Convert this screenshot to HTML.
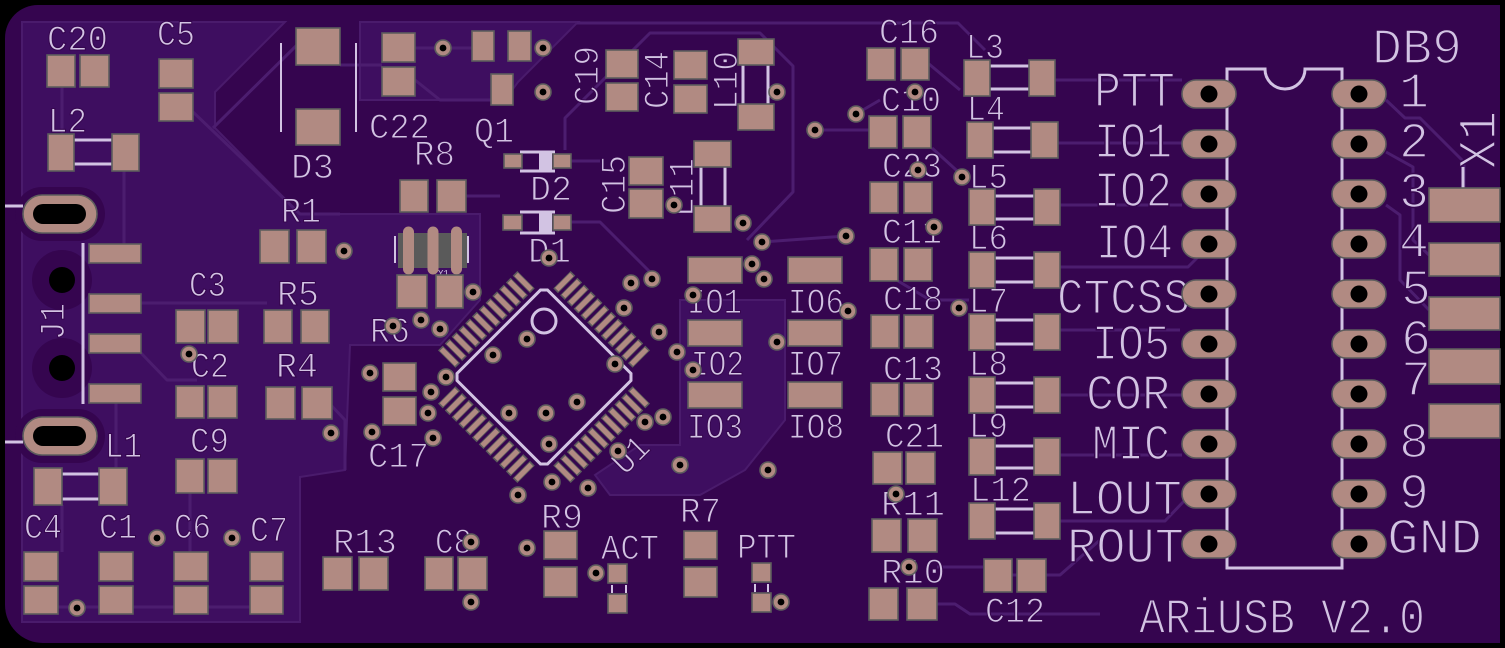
<!DOCTYPE html>
<html><head><meta charset="utf-8"><style>
html,body{margin:0;padding:0;background:#000;}
svg{display:block;}
.p{fill:#b18a82;stroke:#5d5d5d;stroke-width:1.6}
.s{fill:none;stroke:#d2c3e3;stroke-width:3}
.s2{fill:none;stroke:#d2c3e3;stroke-width:2}
.t{font-family:"Liberation Mono","DejaVu Sans Mono",monospace;fill:#d2c3e3;font-size:35px;stroke:#36064f;stroke-width:1.1px}
.T{font-family:"Liberation Mono","DejaVu Sans Mono",monospace;fill:#d2c3e3;font-size:50px;stroke:#36064f;stroke-width:1.6px}
.tr{fill:none;stroke:#4c1d6f;stroke-width:3;stroke-linejoin:round}
.po{fill:#3e0e60;stroke:#4a1b6c;stroke-width:2}
.pg{fill:none;stroke:#5d5d5d;stroke-width:24.6;stroke-dasharray:6.6 3}
.pp{fill:none;stroke:#b18a82;stroke-width:21.4;stroke-dasharray:5 4.6}
</style></head><body>
<svg width="1505" height="648" viewBox="0 0 1505 648" xmlns="http://www.w3.org/2000/svg">
<defs>
<g id="v"><circle r="8" class="p"/><circle r="3.4" fill="#000"/></g>
<pattern id="db" x="1181" y="79" width="150" height="50" patternUnits="userSpaceOnUse">
<rect x="1" y="1" width="54" height="28" rx="14" class="p"/><circle cx="28" cy="15" r="8.5" fill="#000"/>
</pattern>
</defs>
<rect width="1505" height="648" fill="#000"/>
<path d="M38,5 H1500 V643 H43 A38,38 0 0 1 5,605 V38 A33,33 0 0 1 38,5 Z" fill="#35054f"/>
<polygon class="po" points="22,22 285,22 215,92 215,128 300,214 480,214 480,300 440,345 350,345 345,470 300,477 300,622 22,622"/>
<polygon class="po" points="360,22 578,22 518,82 505,100 360,100"/>
<polygon class="po" points="680,300 785,300 785,420 745,470 700,495 610,495 595,475 640,445 680,445"/>
<rect x="15" y="187" width="90" height="54" rx="27" fill="#35054f"/>
<rect x="15" y="409" width="90" height="54" rx="27" fill="#35054f"/>
<circle cx="62" cy="280" r="30" fill="#35054f"/>
<circle cx="62" cy="368" r="30" fill="#35054f"/>
<path class="tr" d="M62,87 V134 M124,171 V244 M193,112 L300,214 H340 M213,128 L300,42 M141,303 H267 M116,403 V468 M190,493 V552 M58,607 H250 M141,353 L167,380 H197 M577,23 H958 L985,50 M565,150 V118 L650,33 H760 L793,66 V192 L747,240 M937,604 H955 L970,614 H1100 M937,567 H983 M1055,80 H1182 M1058,143 H1182 M1060,205 H1182 M1060,267 H1188 L1200,255 M1060,330 H1180 M1060,395 H1182 M1060,455 H1182 M1060,521 H1165 L1185,500 M1386,100 L1405,118 H1420 L1464,162 V188 M1386,152 L1413,167 V240 L1429,255 M1386,205 L1400,215 V280 L1429,310 M329,403 L345,420 V470 M62,505 V552 M340,65 H382 M415,48 H472 M415,80 L440,100 H491 M463,196 L500,196 M571,161 H600 M571,222 H600 L650,272 M762,242 L846,236 M815,130 H869 M856,114 L880,100 M932,148 L965,178 M898,281 L930,300 H969 M929,64 L960,90 M1012,575 H1060 L1100,540"/>
<path class="s" d="M5,206 H23 M5,442 H23 M83,243 V404 M74,140 H112 M74,164 H112 M62,474 H99 M62,499 H99 M743,65 V104 M768,65 V104 M701,167 V206 M725,167 V206 M520,152 H555 M520,171 H555 M520,212 H555 M520,233 H555 M990,66 H1029 M990,89 H1029 M993,128 H1031 M993,152 H1031 M995,196 H1034 M995,219 H1034 M995,258 H1034 M995,282 H1034 M995,320 H1034 M995,344 H1034 M995,383 H1034 M995,407 H1034 M995,446 H1034 M995,468 H1034 M995,509 H1034 M995,533 H1034 M1463,167 V188"/>
<path class="s2" d="M281,43 V132 M356,43 V132 M395,236 V263 M468,236 V263 M612,585 V593 M626,585 V593 M755,584 V592 M768,584 V592"/>
<rect x="539" y="152" width="13" height="19" fill="#d2c3e3"/>
<rect x="539" y="212" width="13" height="21" fill="#d2c3e3"/>
<path class="s" d="M1227,568 V69 H1265 A20,20 0 0 0 1305,69 H1342 V568 Z"/>
<g class="t">
<text x="47" y="50" textLength="61" lengthAdjust="spacingAndGlyphs">C20</text>
<text x="157" y="45" textLength="38" lengthAdjust="spacingAndGlyphs">C5</text>
<text x="48" y="132" textLength="39" lengthAdjust="spacingAndGlyphs">L2</text>
<text x="291" y="178" textLength="43" lengthAdjust="spacingAndGlyphs">D3</text>
<text x="369" y="138" textLength="61" lengthAdjust="spacingAndGlyphs">C22</text>
<text x="474" y="142" textLength="40" lengthAdjust="spacingAndGlyphs">Q1</text>
<text x="414" y="165" textLength="41" lengthAdjust="spacingAndGlyphs">R8</text>
<text x="281" y="222" textLength="40" lengthAdjust="spacingAndGlyphs">R1</text>
<text x="530" y="200" textLength="42" lengthAdjust="spacingAndGlyphs">D2</text>
<text x="528" y="262" textLength="43" lengthAdjust="spacingAndGlyphs">D1</text>
<text x="189" y="296" textLength="37" lengthAdjust="spacingAndGlyphs">C3</text>
<text x="277" y="305" textLength="42" lengthAdjust="spacingAndGlyphs">R5</text>
<text x="370" y="342" textLength="40" lengthAdjust="spacingAndGlyphs">R6</text>
<text x="191" y="377" textLength="38" lengthAdjust="spacingAndGlyphs">C2</text>
<text x="276" y="377" textLength="42" lengthAdjust="spacingAndGlyphs">R4</text>
<text x="190" y="452" textLength="39" lengthAdjust="spacingAndGlyphs">C9</text>
<text x="105" y="457" textLength="37" lengthAdjust="spacingAndGlyphs">L1</text>
<text x="368" y="467" textLength="61" lengthAdjust="spacingAndGlyphs">C17</text>
<text x="24" y="538" textLength="38" lengthAdjust="spacingAndGlyphs">C4</text>
<text x="99" y="538" textLength="38" lengthAdjust="spacingAndGlyphs">C1</text>
<text x="174" y="538" textLength="37" lengthAdjust="spacingAndGlyphs">C6</text>
<text x="250" y="541" textLength="38" lengthAdjust="spacingAndGlyphs">C7</text>
<text x="333" y="553" textLength="64" lengthAdjust="spacingAndGlyphs">R13</text>
<text x="435" y="553" textLength="37" lengthAdjust="spacingAndGlyphs">C8</text>
<text x="541" y="528" textLength="42" lengthAdjust="spacingAndGlyphs">R9</text>
<text x="680" y="522" textLength="41" lengthAdjust="spacingAndGlyphs">R7</text>
<text x="601" y="559" textLength="58" lengthAdjust="spacingAndGlyphs">ACT</text>
<text x="737" y="558" textLength="59" lengthAdjust="spacingAndGlyphs">PTT</text>
<text x="687" y="313" textLength="55" lengthAdjust="spacingAndGlyphs">IO1</text>
<text x="788" y="313" textLength="56" lengthAdjust="spacingAndGlyphs">IO6</text>
<text x="691" y="375" textLength="53" lengthAdjust="spacingAndGlyphs">IO2</text>
<text x="788" y="375" textLength="55" lengthAdjust="spacingAndGlyphs">IO7</text>
<text x="687" y="438" textLength="56" lengthAdjust="spacingAndGlyphs">IO3</text>
<text x="788" y="438" textLength="56" lengthAdjust="spacingAndGlyphs">IO8</text>
<text x="879" y="43" textLength="60" lengthAdjust="spacingAndGlyphs">C16</text>
<text x="881" y="111" textLength="60" lengthAdjust="spacingAndGlyphs">C10</text>
<text x="882" y="177" textLength="60" lengthAdjust="spacingAndGlyphs">C23</text>
<text x="882" y="243" textLength="60" lengthAdjust="spacingAndGlyphs">C11</text>
<text x="883" y="310" textLength="60" lengthAdjust="spacingAndGlyphs">C18</text>
<text x="883" y="380" textLength="60" lengthAdjust="spacingAndGlyphs">C13</text>
<text x="885" y="447" textLength="59" lengthAdjust="spacingAndGlyphs">C21</text>
<text x="881" y="515" textLength="64" lengthAdjust="spacingAndGlyphs">R11</text>
<text x="881" y="583" textLength="64" lengthAdjust="spacingAndGlyphs">R10</text>
<text x="985" y="622" textLength="60" lengthAdjust="spacingAndGlyphs">C12</text>
<text x="966" y="58" textLength="38" lengthAdjust="spacingAndGlyphs">L3</text>
<text x="967" y="120" textLength="38" lengthAdjust="spacingAndGlyphs">L4</text>
<text x="969" y="188" textLength="39" lengthAdjust="spacingAndGlyphs">L5</text>
<text x="969" y="249" textLength="39" lengthAdjust="spacingAndGlyphs">L6</text>
<text x="969" y="312" textLength="39" lengthAdjust="spacingAndGlyphs">L7</text>
<text x="969" y="375" textLength="39" lengthAdjust="spacingAndGlyphs">L8</text>
<text x="969" y="437" textLength="39" lengthAdjust="spacingAndGlyphs">L9</text>
<text x="970" y="501" textLength="61" lengthAdjust="spacingAndGlyphs">L12</text>
<text transform="translate(598,105) rotate(-90)" textLength="59" lengthAdjust="spacingAndGlyphs">C19</text>
<text transform="translate(668,109) rotate(-90)" textLength="58" lengthAdjust="spacingAndGlyphs">C14</text>
<text transform="translate(737,110) rotate(-90)" textLength="59" lengthAdjust="spacingAndGlyphs">L10</text>
<text transform="translate(625,214) rotate(-90)" textLength="59" lengthAdjust="spacingAndGlyphs">C15</text>
<text transform="translate(693,217) rotate(-90)" textLength="59" lengthAdjust="spacingAndGlyphs">L11</text>
<text transform="translate(64,340) rotate(-90)" textLength="37" lengthAdjust="spacingAndGlyphs">J1</text>
<text transform="translate(625,476) rotate(-45)" textLength="38" lengthAdjust="spacingAndGlyphs">U1</text>
</g>
<g class="T">
<text x="1372" y="63" textLength="90" lengthAdjust="spacingAndGlyphs">DB9</text>
<text x="1094" y="106" textLength="81" lengthAdjust="spacingAndGlyphs">PTT</text>
<text x="1094" y="157" textLength="78" lengthAdjust="spacingAndGlyphs">IO1</text>
<text x="1094" y="206" textLength="78" lengthAdjust="spacingAndGlyphs">IO2</text>
<text x="1096" y="258" textLength="77" lengthAdjust="spacingAndGlyphs">IO4</text>
<text x="1057" y="313" textLength="133" lengthAdjust="spacingAndGlyphs">CTCSS</text>
<text x="1092" y="359" textLength="78" lengthAdjust="spacingAndGlyphs">IO5</text>
<text x="1086" y="409" textLength="84" lengthAdjust="spacingAndGlyphs">COR</text>
<text x="1092" y="459" textLength="78" lengthAdjust="spacingAndGlyphs">MIC</text>
<text x="1067" y="514" textLength="115" lengthAdjust="spacingAndGlyphs">LOUT</text>
<text x="1067" y="562" textLength="117" lengthAdjust="spacingAndGlyphs">ROUT</text>
<text x="1387" y="553" textLength="95" lengthAdjust="spacingAndGlyphs">GND</text>
<text x="1139" y="633" textLength="286" lengthAdjust="spacingAndGlyphs">ARiUSB V2.0</text>
<text x="1414" y="107" text-anchor="middle">1</text>
<text x="1414" y="157" text-anchor="middle">2</text>
<text x="1414" y="207" text-anchor="middle">3</text>
<text x="1414" y="257" text-anchor="middle">4</text>
<text x="1416" y="304" text-anchor="middle">5</text>
<text x="1416" y="354" text-anchor="middle">6</text>
<text x="1416" y="395" text-anchor="middle">7</text>
<text x="1414" y="457" text-anchor="middle">8</text>
<text x="1414" y="508" text-anchor="middle">9</text>
<text style="font-size:54px" transform="translate(1495,169) rotate(-90)" textLength="58" lengthAdjust="spacingAndGlyphs">X1</text>
</g>
<text x="438" y="276" style="font-family:'Liberation Mono',monospace;font-size:9px;fill:#d2c3e3">Y1</text>
<g transform="translate(544,377) rotate(45)">
<polygon class="s" points="-59,-64 59,-64 64,-59 64,59 59,64 -59,64 -64,59 -64,-59"/>
<path class="pg" d="M-56.1,-81.5 H56.1 M-56.1,81.5 H56.1 M-81.5,-56.1 V56.1 M81.5,-56.1 V56.1"/>
<path class="pp" d="M-55.3,-81.5 H55.3 M-55.3,81.5 H55.3 M-81.5,-55.3 V55.3 M81.5,-55.3 V55.3"/>
</g>
<circle cx="544" cy="321" r="12" class="s"/>
<rect x="398" y="233" width="69" height="35" fill="#5a5a5a"/>
<path d="M408.5,232 V269 M433,232 V269 M456.5,232 V269" stroke="#b18a82" stroke-width="11" stroke-linecap="round"/>
<g class="p">
<rect x="47" y="55" width="28" height="32"/><rect x="80" y="55" width="29" height="32"/>
<rect x="159" y="59" width="34" height="29"/><rect x="159" y="93" width="34" height="28"/>
<rect x="48" y="134" width="26" height="37"/><rect x="112" y="134" width="27" height="37"/>
<rect x="296" y="28" width="44" height="37"/><rect x="296" y="109" width="44" height="36"/>
<rect x="382" y="33" width="33" height="29"/><rect x="382" y="67" width="33" height="29"/>
<rect x="472" y="31" width="22" height="30"/><rect x="508" y="31" width="23" height="30"/><rect x="491" y="74" width="22" height="31"/>
<rect x="400" y="180" width="28" height="32"/><rect x="437" y="180" width="29" height="32"/>
<rect x="260" y="230" width="29" height="33"/><rect x="297" y="230" width="29" height="33"/>
<rect x="397" y="275" width="30" height="33"/><rect x="436" y="275" width="27" height="33"/>
<rect x="176" y="310" width="29" height="33"/><rect x="208" y="310" width="30" height="33"/>
<rect x="264" y="310" width="28" height="33"/><rect x="301" y="310" width="28" height="33"/>
<rect x="89" y="244" width="52" height="19"/><rect x="89" y="294" width="52" height="19"/>
<rect x="89" y="334" width="52" height="19"/><rect x="89" y="384" width="52" height="19"/>
<rect x="176" y="386" width="28" height="32"/><rect x="208" y="386" width="29" height="32"/>
<rect x="266" y="387" width="29" height="32"/><rect x="302" y="387" width="30" height="32"/>
<rect x="176" y="459" width="28" height="34"/><rect x="208" y="459" width="29" height="34"/>
<rect x="34" y="468" width="28" height="37"/><rect x="99" y="468" width="28" height="37"/>
<rect x="24" y="552" width="34" height="29"/><rect x="24" y="586" width="34" height="28"/>
<rect x="99" y="552" width="34" height="29"/><rect x="99" y="586" width="34" height="28"/>
<rect x="174" y="552" width="34" height="29"/><rect x="174" y="586" width="34" height="28"/>
<rect x="250" y="552" width="33" height="29"/><rect x="250" y="586" width="33" height="28"/>
<rect x="323" y="557" width="29" height="33"/><rect x="359" y="557" width="29" height="33"/>
<rect x="425" y="557" width="28" height="33"/><rect x="458" y="557" width="29" height="33"/>
<rect x="383" y="363" width="33" height="28"/><rect x="383" y="397" width="33" height="28"/>
<rect x="606" y="50" width="32" height="28"/><rect x="606" y="83" width="32" height="28"/>
<rect x="674" y="51" width="33" height="28"/><rect x="674" y="85" width="33" height="28"/>
<rect x="738" y="39" width="36" height="26"/><rect x="738" y="104" width="36" height="26"/>
<rect x="629" y="157" width="34" height="28"/><rect x="629" y="189" width="34" height="29"/>
<rect x="694" y="141" width="37" height="26"/><rect x="694" y="206" width="37" height="26"/>
<rect x="504" y="154" width="18" height="14"/><rect x="553" y="154" width="18" height="14"/>
<rect x="503" y="215" width="19" height="15"/><rect x="553" y="215" width="18" height="15"/>
<rect x="688" y="257" width="54" height="26"/><rect x="788" y="257" width="54" height="26"/>
<rect x="688" y="320" width="54" height="26"/><rect x="788" y="320" width="54" height="26"/>
<rect x="688" y="382" width="54" height="26"/><rect x="788" y="382" width="54" height="26"/>
<rect x="544" y="531" width="33" height="28"/><rect x="544" y="567" width="33" height="30"/>
<rect x="608" y="564" width="19" height="19"/><rect x="608" y="594" width="19" height="19"/>
<rect x="684" y="531" width="33" height="28"/><rect x="684" y="567" width="33" height="30"/>
<rect x="752" y="563" width="19" height="19"/><rect x="752" y="593" width="19" height="19"/>
<rect x="867" y="48" width="28" height="32"/><rect x="901" y="48" width="28" height="32"/>
<rect x="869" y="116" width="28" height="32"/><rect x="903" y="116" width="28" height="32"/>
<rect x="870" y="182" width="28" height="31"/><rect x="904" y="182" width="28" height="31"/>
<rect x="870" y="248" width="28" height="33"/><rect x="904" y="248" width="28" height="33"/>
<rect x="871" y="315" width="28" height="33"/><rect x="904" y="315" width="29" height="33"/>
<rect x="871" y="383" width="28" height="33"/><rect x="904" y="383" width="29" height="33"/>
<rect x="873" y="452" width="29" height="32"/><rect x="906" y="452" width="29" height="32"/>
<rect x="872" y="519" width="29" height="33"/><rect x="908" y="519" width="29" height="33"/>
<rect x="869" y="588" width="29" height="32"/><rect x="907" y="588" width="30" height="32"/>
<rect x="984" y="559" width="28" height="33"/><rect x="1017" y="559" width="29" height="33"/>
<rect x="964" y="60" width="26" height="36"/><rect x="1029" y="60" width="26" height="36"/>
<rect x="967" y="122" width="26" height="36"/><rect x="1031" y="122" width="27" height="36"/>
<rect x="969" y="189" width="26" height="36"/><rect x="1034" y="189" width="26" height="36"/>
<rect x="969" y="252" width="26" height="36"/><rect x="1034" y="252" width="26" height="36"/>
<rect x="969" y="314" width="26" height="36"/><rect x="1034" y="314" width="26" height="36"/>
<rect x="969" y="377" width="26" height="36"/><rect x="1034" y="377" width="26" height="36"/>
<rect x="969" y="438" width="26" height="37"/><rect x="1034" y="438" width="26" height="37"/>
<rect x="969" y="503" width="26" height="36"/><rect x="1034" y="503" width="26" height="36"/>
<rect x="1429" y="188" width="71" height="34"/><rect x="1429" y="243" width="71" height="33"/>
<rect x="1429" y="297" width="71" height="33"/><rect x="1429" y="349" width="71" height="35"/>
<rect x="1429" y="404" width="71" height="34"/>
<rect x="23" y="195" width="74" height="38" rx="19"/>
<rect x="23" y="417" width="74" height="38" rx="19"/>
</g>
<rect x="1181" y="79" width="210" height="480" fill="url(#db)"/>
<g fill="#000">
<rect x="33" y="204" width="53" height="20" rx="10"/>
<rect x="33" y="426" width="53" height="20" rx="10"/>
<circle cx="62" cy="280" r="13"/><circle cx="62" cy="368" r="13"/>
</g>
<use href="#v" x="443" y="48"/><use href="#v" x="543" y="48"/><use href="#v" x="543" y="92"/><use href="#v" x="344" y="251"/>
<use href="#v" x="473" y="292"/><use href="#v" x="421" y="320"/><use href="#v" x="393" y="326"/><use href="#v" x="440" y="329"/>
<use href="#v" x="189" y="354"/><use href="#v" x="331" y="433"/><use href="#v" x="157" y="538"/><use href="#v" x="232" y="538"/>
<use href="#v" x="77" y="608"/><use href="#v" x="471" y="542"/><use href="#v" x="471" y="602"/><use href="#v" x="370" y="373"/>
<use href="#v" x="372" y="432"/><use href="#v" x="431" y="392"/><use href="#v" x="428" y="413"/><use href="#v" x="446" y="377"/>
<use href="#v" x="433" y="438"/><use href="#v" x="493" y="355"/><use href="#v" x="549" y="258"/><use href="#v" x="762" y="242"/>
<use href="#v" x="815" y="130"/><use href="#v" x="856" y="114"/><use href="#v" x="846" y="236"/><use href="#v" x="962" y="177"/>
<use href="#v" x="959" y="308"/><use href="#v" x="752" y="264"/><use href="#v" x="764" y="279"/><use href="#v" x="848" y="311"/>
<use href="#v" x="693" y="295"/><use href="#v" x="777" y="92"/><use href="#v" x="674" y="205"/><use href="#v" x="743" y="223"/>
<use href="#v" x="631" y="283"/><use href="#v" x="652" y="279"/><use href="#v" x="624" y="308"/><use href="#v" x="659" y="332"/>
<use href="#v" x="677" y="352"/><use href="#v" x="527" y="339"/><use href="#v" x="615" y="364"/><use href="#v" x="577" y="402"/>
<use href="#v" x="509" y="413"/><use href="#v" x="546" y="413"/><use href="#v" x="549" y="444"/><use href="#v" x="645" y="422"/>
<use href="#v" x="663" y="417"/><use href="#v" x="618" y="451"/><use href="#v" x="552" y="482"/><use href="#v" x="588" y="488"/>
<use href="#v" x="518" y="495"/><use href="#v" x="680" y="465"/><use href="#v" x="768" y="470"/><use href="#v" x="527" y="548"/>
<use href="#v" x="596" y="573"/><use href="#v" x="781" y="602"/><use href="#v" x="693" y="370"/><use href="#v" x="777" y="342"/>
<use href="#v" x="915" y="92"/><use href="#v" x="918" y="170"/><use href="#v" x="934" y="227"/>
<use href="#v" x="896" y="494"/><use href="#v" x="909" y="567"/>
</svg>
</body></html>
